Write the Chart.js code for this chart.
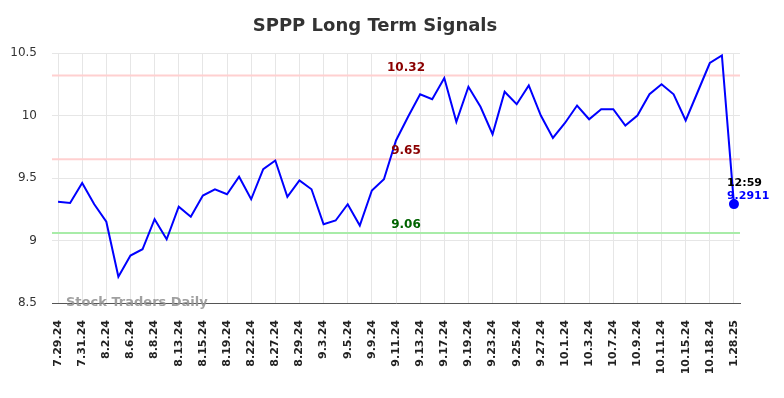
<!DOCTYPE html>
<html>
<head>
<meta charset="utf-8">
<script src="https://cdn.jsdelivr.net/npm/chart.js@4"></script>
<style>
  html, body { margin: 0; padding: 0; background: #fff; }
  #wrap { width: 784px; height: 398px; }
</style>
</head>
<body>
<div id="wrap"><canvas id="myChart" width="784" height="398"></canvas></div>
<script>
// chart data
const dates = [
  '7.29.24', '7.30.24', '7.31.24', '8.1.24', '8.2.24', '8.5.24', '8.6.24', '8.7.24', '8.8.24', '8.9.24',
  '8.13.24', '8.14.24', '8.15.24', '8.16.24', '8.19.24', '8.21.24', '8.22.24', '8.23.24', '8.27.24', '8.28.24',
  '8.29.24', '8.30.24', '9.3.24', '9.4.24', '9.5.24', '9.6.24', '9.9.24', '9.10.24', '9.11.24', '9.12.24',
  '9.13.24', '9.16.24', '9.17.24', '9.18.24', '9.19.24', '9.20.24', '9.23.24', '9.24.24', '9.25.24', '9.26.24',
  '9.27.24', '9.30.24', '10.1.24', '10.2.24', '10.3.24', '10.4.24', '10.7.24', '10.8.24', '10.9.24', '10.10.24',
  '10.11.24', '10.14.24', '10.15.24', '10.17.24', '10.18.24', '10.21.24', '1.28.25'
];
const prices = [
  9.31, 9.30, 9.46, 9.29, 9.15, 8.71, 8.88, 8.93, 9.17, 9.01,
  9.27, 9.19, 9.36, 9.41, 9.37, 9.51, 9.33, 9.57, 9.64, 9.35,
  9.48, 9.41, 9.13, 9.16, 9.29, 9.12, 9.40, 9.49, 9.80, 9.99,
  10.17, 10.13, 10.30, 9.95, 10.23, 10.07, 9.85, 10.19, 10.09, 10.24,
  10.00, 9.82, 9.94, 10.08, 9.97, 10.05, 10.05, 9.92, 10.00, 10.17,
  10.25, 10.17, 9.96, 10.19, 10.42, 10.48, 9.2911
];
const levels = [10.32, 9.65, 9.06];
const levelLabels = ['10.32', '9.65', '9.06'];
const yTicks = [8.5, 9, 9.5, 10, 10.5];
const lastTime = '12:59';
const lastLabel = '9.2911';

const levelLine = ['#ffd0d0', '#ffd0d0', '#a8eca8'];
const levelText = ['#8b0000', '#8b0000', '#006400'];
const last = prices.length - 1;

Chart.defaults.font.family = "'DejaVu Sans', sans-serif";

// horizontal signal lines, their labels, title, watermark and last price tag
const extras = {
  id: 'extras',
  beforeDatasetsDraw(chart) {
    const { ctx, chartArea, scales } = chart;
    ctx.save();
    ctx.lineWidth = 2;
    levels.forEach((v, i) => {
      const y = scales.y.getPixelForValue(v);
      ctx.strokeStyle = levelLine[i];
      ctx.beginPath();
      ctx.moveTo(chartArea.left, y);
      ctx.lineTo(chartArea.right, y);
      ctx.stroke();
    });
    ctx.restore();
  },
  afterDatasetsDraw(chart) {
    const { ctx, chartArea, scales } = chart;
    ctx.save();
    const midX = (chartArea.left + chartArea.right) / 2 + 10;
    ctx.font = "bold 12px 'DejaVu Sans'";
    ctx.textAlign = 'center';
    ctx.textBaseline = 'bottom';
    levels.forEach((v, i) => {
      ctx.fillStyle = levelText[i];
      ctx.fillText(levelLabels[i], midX, scales.y.getPixelForValue(v) - 2);
    });

    // watermark
    ctx.font = "bold 13px 'DejaVu Sans'";
    ctx.textAlign = 'left';
    ctx.textBaseline = 'middle';
    ctx.fillStyle = 'rgba(150,150,150,0.9)';
    ctx.fillText('Stock Traders Daily', chartArea.left + 14, chartArea.bottom);

    // last price tag
    const px = scales.x.getPixelForValue(last);
    const py = scales.y.getPixelForValue(prices[last]);
    ctx.font = "bold 11px 'DejaVu Sans'";
    ctx.textBaseline = 'alphabetic';
    ctx.fillStyle = '#000';
    ctx.fillText(lastTime, px - 7, py - 18);
    ctx.fillStyle = '#0000ff';
    ctx.fillText(lastLabel, px - 7, py - 5);

    // title
    ctx.font = "bold 18px 'DejaVu Sans'";
    ctx.textAlign = 'center';
    ctx.textBaseline = 'middle';
    ctx.fillStyle = '#333';
    ctx.fillText('SPPP Long Term Signals', 375, 26);
    ctx.restore();
  }
};

let ctx = document.getElementById('myChart').getContext('2d');
let myChart = new Chart(ctx, {
  type: 'line',
  data: {
    labels: dates,
    datasets: [{
      data: prices,
      borderColor: '#0000ff',
      backgroundColor: '#0000ff',
      borderWidth: 2,
      tension: 0,
      pointRadius: c => c.dataIndex === last ? 4 : 0,
      pointHoverRadius: 0
    }]
  },
  options: {
    responsive: false,
    animation: false,
    layout: { padding: { top: 53, left: 10, right: 44, bottom: 0 } },
    plugins: {
      legend: { display: false },
      title: { display: false },
      tooltip: { enabled: false }
    },
    scales: {
      x: {
        offset: true,
        afterFit: axis => { axis.height = 95; axis.paddingLeft = 0; },
        grid: {
          offset: false,
          drawTicks: false,
          color: c => c.index % 2 === 0 ? '#e6e6e6' : 'rgba(0,0,0,0)'
        },
        border: { display: true, color: '#555', width: 1 },
        ticks: {
          autoSkip: false,
          minRotation: 90,
          maxRotation: 90,
          padding: 17,
          color: '#222',
          font: { size: 11, weight: 'bold' },
          callback: function (val, i) { return i % 2 === 0 ? dates[i] : ''; }
        }
      },
      y: {
        min: yTicks[0],
        max: yTicks[yTicks.length - 1],
        afterBuildTicks: axis => { axis.ticks = yTicks.map(v => ({ value: v })); },
        afterFit: axis => { axis.width = 42; },
        grid: { drawTicks: false, color: '#e6e6e6' },
        border: { display: false },
        ticks: {
          padding: 15,
          color: '#333',
          font: { size: 12 },
          callback: v => String(v)
        }
      }
    }
  },
  plugins: [extras]
});
</script>
</body>
</html>
